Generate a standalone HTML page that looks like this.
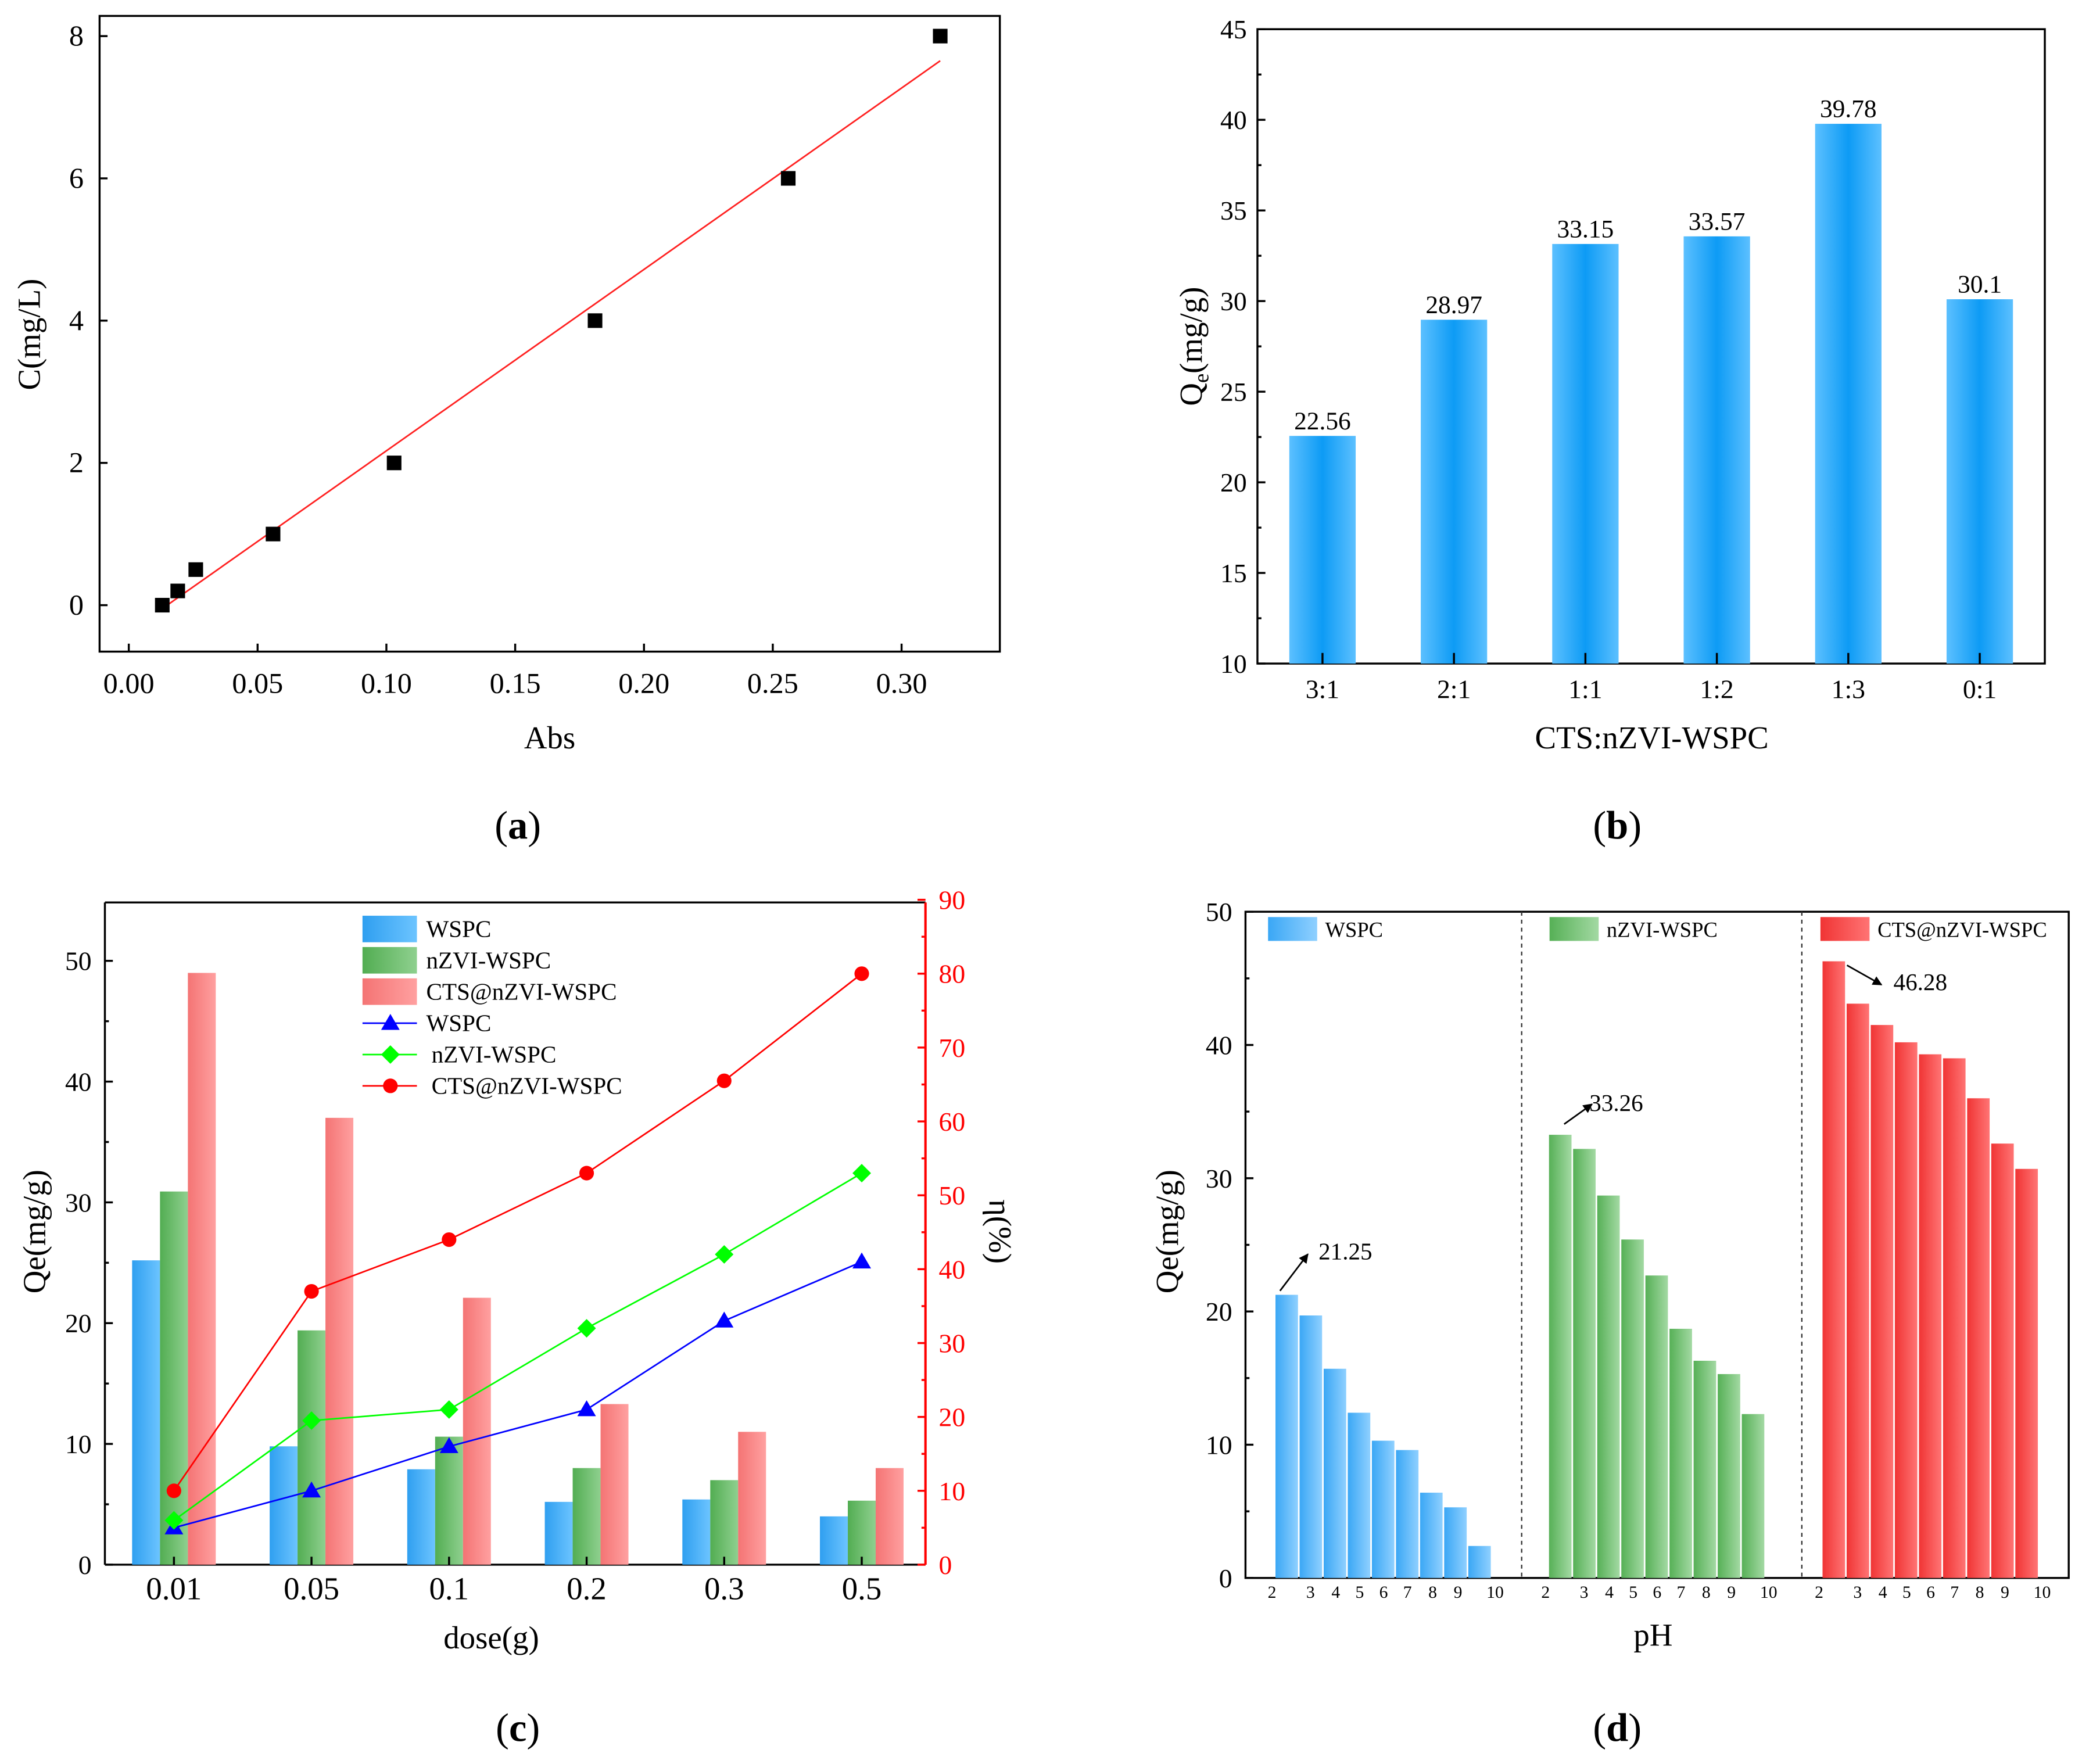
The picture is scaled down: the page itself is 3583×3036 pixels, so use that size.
<!DOCTYPE html>
<html><head><meta charset="utf-8"><style>
html,body{margin:0;padding:0;background:#fff;}
svg, svg text{font-family:"Liberation Serif","DejaVu Serif",serif;}
</style></head><body>
<svg id="fig" xmlns="http://www.w3.org/2000/svg" width="3583" height="3031" viewBox="0 0 1568 1327" preserveAspectRatio="none">
<defs>
<linearGradient id="gb" x1="0" x2="1" y1="0" y2="0"><stop offset="0" stop-color="#5cc0ff"/><stop offset="0.5" stop-color="#0d9bf5"/><stop offset="1" stop-color="#5cc0ff"/></linearGradient>
<linearGradient id="gcb" x1="0" x2="1"><stop offset="0" stop-color="#2f9ff0"/><stop offset="1" stop-color="#6cc4ff"/></linearGradient>
<linearGradient id="gcg" x1="0" x2="1"><stop offset="0" stop-color="#52ad52"/><stop offset="1" stop-color="#8fd08f"/></linearGradient>
<linearGradient id="gcr" x1="0" x2="1"><stop offset="0" stop-color="#f47474"/><stop offset="1" stop-color="#ffa0a0"/></linearGradient>
<linearGradient id="gdb" x1="0" x2="1"><stop offset="0" stop-color="#3aa7f5"/><stop offset="1" stop-color="#8fd0ff"/></linearGradient>
<linearGradient id="gdg" x1="0" x2="1"><stop offset="0" stop-color="#56b056"/><stop offset="1" stop-color="#a3d9a3"/></linearGradient>
<linearGradient id="gdr" x1="0" x2="1"><stop offset="0" stop-color="#f03434"/><stop offset="1" stop-color="#ff7474"/></linearGradient>
<marker id="arr" viewBox="0 0 10 10" refX="9" refY="5" markerWidth="6" markerHeight="6" orient="auto"><path d="M0,0 L10,5 L0,10 z" fill="#000"/></marker>
</defs>
</svg>
<script>
// ---- data (a)
const aAbs = [0.013,0.019,0.026,0.056,0.103,0.181,0.256,0.315];
const aConc = [0,0.2,0.5,1,2,4,6,8];
const aXTicks = ["0.00","0.05","0.10","0.15","0.20","0.25","0.30"];
const aYTicks = [0,2,4,6,8];
const aFit = [25.5,-0.38];
// ---- data (b)
const bCats = ["3:1","2:1","1:1","1:2","1:3","0:1"];
const bVals = [22.56,28.97,33.15,33.57,39.78,30.1];
const bLabels = ["22.56","28.97","33.15","33.57","39.78","30.1"];
const bYTicks = [10,15,20,25,30,35,40,45];
// ---- data (c)
const cCats = ["0.01","0.05","0.1","0.2","0.3","0.5"];
const cQeWSPC = [25.2,9.8,7.9,5.2,5.4,4.0];
const cQeNZVI = [30.9,19.4,10.6,8.0,7.0,5.3];
const cQeCTS = [49,37,22.1,13.3,11,8];
const cEtaWSPC = [5,10,16,21,33,41];
const cEtaNZVI = [6,19.5,21,32,42,53];
const cEtaCTS = [10,37,44,53,65.5,80];
const cYTicks = [0,10,20,30,40,50];
const cY2Ticks = [0,10,20,30,40,50,60,70,80,90];
// ---- data (d)
const dPH = ["2","3","4","5","6","7","8","9","10"];
const dWSPC = [21.25,19.7,15.7,12.4,10.3,9.6,6.4,5.3,2.4];
const dNZVI = [33.26,32.2,28.7,25.4,22.7,18.7,16.3,15.3,12.3];
const dCTS = [46.28,43.1,41.5,40.2,39.3,39.0,36.0,32.6,30.7];
const dYTicks = [0,10,20,30,40,50];

const svg = document.getElementById('fig');
const NS = 'http://www.w3.org/2000/svg';
const FF = '"Liberation Serif", "DejaVu Serif", serif';
function mk(tag, at, txt){const e=document.createElementNS(NS,tag);for(const k in at)e.setAttribute(k,at[k]);if(txt!==undefined)e.textContent=txt;svg.appendChild(e);return e;}
function line(x1,y1,x2,y2,c,w){return mk('line',{x1,y1,x2,y2,stroke:c||'#000','stroke-width':w||1.5});}
function text(x,y,s,sz,anc,col){return mk('text',{x,y,'font-size':sz,'font-family':FF,'text-anchor':anc||'middle',fill:col||'#000'},s);}
function cap(x,y,l){const t=mk('text',{x,y,'font-size':30,'font-family':FF,'text-anchor':'middle'});t.innerHTML='(<tspan font-weight="bold">'+l+'</tspan>)';}

// ===== Panel A =====
{const L=75,R=753,T=12,B=491;
const xs=v=>97+v*1940, ys=v=>456-v*53.6;
const f=mk('rect',{x:L,y:T,width:R-L,height:B-T,fill:'none',stroke:'#000','stroke-width':1.5});


aXTicks.forEach(s=>{const x=xs(parseFloat(s));line(x,B,x,B-6);const t=text(x,522,s,22);

});
aYTicks.forEach(v=>{const y=ys(v);line(L,y,L+6,y);const t=text(L-12,y+7,String(v),22,'end');

});
const x0=aAbs[0],x1=aAbs[aAbs.length-1];
const fl=line(xs(x0),ys(aFit[0]*x0+aFit[1]),xs(x1),ys(aFit[0]*x1+aFit[1]),'#ff2020',1.2);


aAbs.forEach((a,i)=>{const r=mk('rect',{x:xs(a)-5.5,y:ys(aConc[i])-5.5,width:11,height:11,fill:'#000'});

});
const xt=text(414,564,'Abs',24);


const yt=text(0,0,'C(mg/L)',24);yt.setAttribute('transform','translate(30,252) rotate(-90)');


cap(390,632,'a');}

// ===== Panel B =====
{const L=947,R=1540,T=22,B=500;
const ys=v=>B-(v-10)*(B-T)/35, xc=i=>996+i*99;
const f=mk('rect',{x:L,y:T,width:R-L,height:B-T,fill:'none',stroke:'#000','stroke-width':1.5});


bYTicks.forEach(v=>{const y=ys(v);line(L,y,L+6,y);if(v<45)line(L,ys(v+2.5),L+3,ys(v+2.5));const t=text(L-8,y+7,String(v),20,'end');

});
bCats.forEach((c,i)=>{const x=xc(i);
const r=mk('rect',{x:x-25,y:ys(bVals[i]),width:50,height:B-ys(bVals[i]),fill:'url(#gb)'});


line(x,B,x,B-8);
const t=text(x,526,c,20);


const vl=text(x,ys(bVals[i])-5,bLabels[i],19);

});
const xt=text(1244,564,'CTS:nZVI-WSPC',24);


const yt=mk('text',{'font-size':24,'font-family':FF,'text-anchor':'middle',transform:'translate(905,261) rotate(-90)'});
yt.innerHTML='Q<tspan font-size="16" dy="5">e</tspan><tspan dy="-5">(mg/g)</tspan>';


cap(1218,632,'b');}

// ===== Panel C =====
{const L=79,R=697,T=680,B=1179;
const ys=v=>B-v*9.1, ys2=v=>B-v*(B-678)/90, xc=i=>131+i*103.6;
line(L,T,R,T);line(L,B,R,B);line(L,T,L,B);
const ra=line(R,T,R,B,'#ff0000',1.8);


cYTicks.forEach(v=>{const y=ys(v);line(L,y,L+6,y);if(v<50)line(L,ys(v+5),L+3,ys(v+5));const t=text(L-10,y+7,String(v),20,'end');

});
cY2Ticks.forEach(v=>{const y=ys2(v);line(R,y,R-6,y,'#ff0000');if(v<90)line(R,ys2(v+5),R-3,ys2(v+5),'#ff0000');const t=text(R+10,y+7,String(v),20,'start','#ff0000');

});
const sets=[[cQeWSPC,'url(#gcb)',-21,'wspc'],[cQeNZVI,'url(#gcg)',0,'nzvi'],[cQeCTS,'url(#gcr)',21,'cts']];
cCats.forEach((c,i)=>{const x=xc(i);
sets.forEach(s=>{const r=mk('rect',{x:x+s[2]-10.5,y:ys(s[0][i]),width:21,height:B-ys(s[0][i]),fill:s[1]});

});
line(x,B,x,B-6);
const t=text(x,1205,c,24);

});
const lines=[[cEtaWSPC,'#0000ff','tri'],[cEtaNZVI,'#00ff00','dia'],[cEtaCTS,'#ff0000','circ']];
lines.forEach(l=>{const pts=l[0].map((v,i)=>xc(i)+','+ys2(v)).join(' ');
const pl=mk('polyline',{points:pts,fill:'none',stroke:l[1],'stroke-width':1.2});


l[0].forEach((v,i)=>{const x=xc(i),y=ys2(v);let m;
if(l[2]==='tri')m=mk('polygon',{points:`${x},${y-7} ${x-7},${y+5} ${x+7},${y+5}`,fill:l[1]});
else if(l[2]==='dia')m=mk('polygon',{points:`${x},${y-7} ${x+7},${y} ${x},${y+7} ${x-7},${y}`,fill:l[1]});
else m=mk('circle',{cx:x,cy:y,r:5.5,fill:l[1]});

});});
const lg=[['url(#gcb)','WSPC'],['url(#gcg)','nZVI-WSPC'],['url(#gcr)','CTS@nZVI-WSPC']];
lg.forEach((g,k)=>{const y=700+k*23.6;const r=mk('rect',{x:273,y:y-10,width:41,height:20,fill:g[0]});


const t=text(321,y+6,g[1],18,'start');

});
lines.forEach((l,k)=>{const y=771+k*23.6;line(273,y,314,y,l[1],1.2);const x=294;let m;
if(l[2]==='tri')m=mk('polygon',{points:`${x},${y-7} ${x-7},${y+5} ${x+7},${y+5}`,fill:l[1]});
else if(l[2]==='dia')m=mk('polygon',{points:`${x},${y-7} ${x+7},${y} ${x},${y+7} ${x-7},${y}`,fill:l[1]});
else m=mk('circle',{cx:x,cy:y,r:5.5,fill:l[1]});


const t=text(k?325:321,y+6,['WSPC','nZVI-WSPC','CTS@nZVI-WSPC'][k],18,'start');

});
const xt=text(370,1242,'dose(g)',24);


const yt=text(0,0,'Qe(mg/g)',24);yt.setAttribute('transform','translate(34,928) rotate(-90)');


const y2=text(0,0,'η(%)',24);y2.setAttribute('transform','translate(745,928) rotate(90)');


cap(390,1312,'c');}

// ===== Panel D =====
{const L=938,R=1558,T=687,B=1189;
const ys=v=>B-v*(B-T)/50;
const f=mk('rect',{x:L,y:T,width:R-L,height:B-T,fill:'none',stroke:'#000','stroke-width':1.5});


[1146,1357].forEach(x=>{const d=mk('line',{x1:x,y1:T,x2:x,y2:B,stroke:'#333','stroke-width':1,'stroke-dasharray':'3,3'});

});
dYTicks.forEach(v=>{const y=ys(v);line(L,y,L+6,y);if(v<50)line(L,ys(v+5),L+3,ys(v+5));const t=text(L-10,y+7,String(v),20,'end');

});
const groups=[[dWSPC,'url(#gdb)',960,'wspc'],[dNZVI,'url(#gdg)',1166,'nzvi'],[dCTS,'url(#gdr)',1372,'cts']];
const off=[-2,27,46,64,82,100,119,138,166];
const bw=18.15;
groups.forEach(g=>{g[0].forEach((v,i)=>{const r=mk('rect',{x:g[2]+i*bw+0.6,y:ys(v),width:bw-1.2,height:B-ys(v),fill:g[1]});

});
dPH.forEach((p,i)=>{const t=text(g[2]+off[i],1204,p,13);

});});
const lg=[['url(#gdb)','WSPC',955],['url(#gdg)','nZVI-WSPC',1167],['url(#gdr)','CTS@nZVI-WSPC',1371]];
lg.forEach(g=>{const r=mk('rect',{x:g[2],y:691,width:37,height:18,fill:g[0]});


const t=text(g[2]+43,706,g[1],16,'start');

});
const ann=[[964,ys(dWSPC[0])-3,985,945,993,949,'21.25'],[1178,ys(dNZVI[0])-8,1199,832,1197,837,'33.26'],[1391,ys(dCTS[0])+3,1417,742,1426,746,'46.28']];
ann.forEach(a=>{const l=mk('line',{x1:a[0],y1:a[1],x2:a[2],y2:a[3],stroke:'#000','stroke-width':1.2,'marker-end':'url(#arr)'});


const t=text(a[4],a[5],a[6],18,'start');

});
const xt=text(1245,1240,'pH',24);


const yt=text(0,0,'Qe(mg/g)',24);yt.setAttribute('transform','translate(887,928) rotate(-90)');


cap(1218,1312,'d');}
</script>
</body></html>
